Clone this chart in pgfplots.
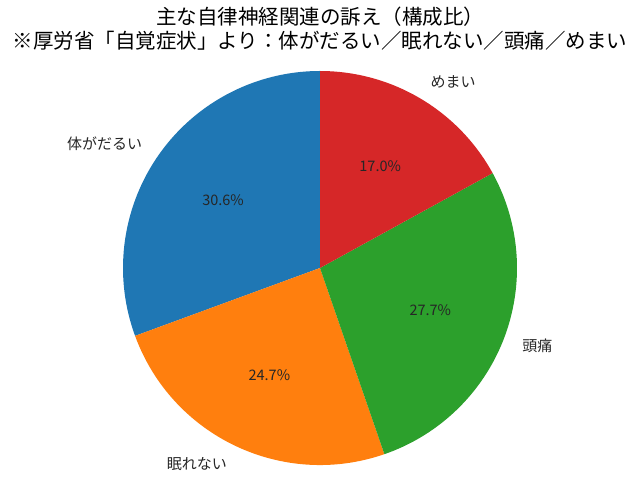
\documentclass[border=0pt]{standalone}
\usepackage{fontspec}
\setmainfont{Noto Sans CJK JP}
\usepackage{pgfplots}
\usepackage{pgfplotstable}
\pgfplotsset{compat=1.18}

\definecolor{c0}{HTML}{1F77B4}
\definecolor{c1}{HTML}{FF7F0E}
\definecolor{c2}{HTML}{2CA02C}
\definecolor{c3}{HTML}{D62728}
\definecolor{txt}{HTML}{262626}

% share of each complaint, in %
\pgfplotstableread[col sep=comma]{
label,pct,color
体がだるい,30.6,c0
眠れない,24.7,c1
頭痛,27.7,c2
めまい,17.0,c3
}\piedata

\begin{document}
\begin{tikzpicture}
\begin{axis}[
  x=197bp, y=197bp,
  xmin=-1.6244, xmax=1.6244,
  ymin=-1.1472, ymax=1.3604,
  hide axis,
  clip=false,
]
\path (axis cs:-1.6244,-1.1472) rectangle (axis cs:1.6244,1.3604);

\pgfplotstablegetrowsof{\piedata}
\pgfmathtruncatemacro\nrows{\pgfplotsretval-1}
\gdef\cum{90}
\foreach \i in {0,...,\nrows} {
  \pgfplotstablegetelem{\i}{pct}\of\piedata \let\p\pgfplotsretval
  \pgfplotstablegetelem{\i}{label}\of\piedata \let\lab\pgfplotsretval
  \pgfplotstablegetelem{\i}{color}\of\piedata \let\col\pgfplotsretval
  \pgfmathsetmacro\a{\cum}
  \pgfmathsetmacro\b{\cum+3.6*\p}
  \pgfmathsetmacro\m{(\a+\b)/2}
  \pgfmathsetmacro\cm{cos(\m)}
  \ifdim\cm pt>0pt \def\anc{west}\else\def\anc{east}\fi
  \edef\cmd{%
    \noexpand\fill[\col] (axis cs:0,0) -- (axis cs:{cos(\a)},{sin(\a)})
      arc[start angle=\a, end angle=\b, radius=197bp] -- cycle;
    \noexpand\node[text=txt, font=\noexpand\fontsize{14.5bp}{17bp}\noexpand\selectfont]
      at (axis cs:{0.6*cos(\m)},{0.6*sin(\m)}) {\p\noexpand\%};
    \noexpand\node[text=txt, anchor=\anc, inner sep=0pt, font=\noexpand\fontsize{15bp}{18bp}\noexpand\selectfont]
      at (axis cs:{1.1*cos(\m)},{1.1*sin(\m)}) {\lab};
  }
  \cmd
  \xdef\cum{\b}
}

\node[text=black, font=\fontsize{20.5bp}{24bp}\selectfont] at (axis cs:0,1.274) {主な自律神経関連の訴え（構成比）};
\node[text=black, font=\fontsize{20.5bp}{24bp}\selectfont] at (axis cs:0,1.152) {※厚労省「自覚症状」より：体がだるい／眠れない／頭痛／めまい};
\end{axis}
\end{tikzpicture}
\end{document}
